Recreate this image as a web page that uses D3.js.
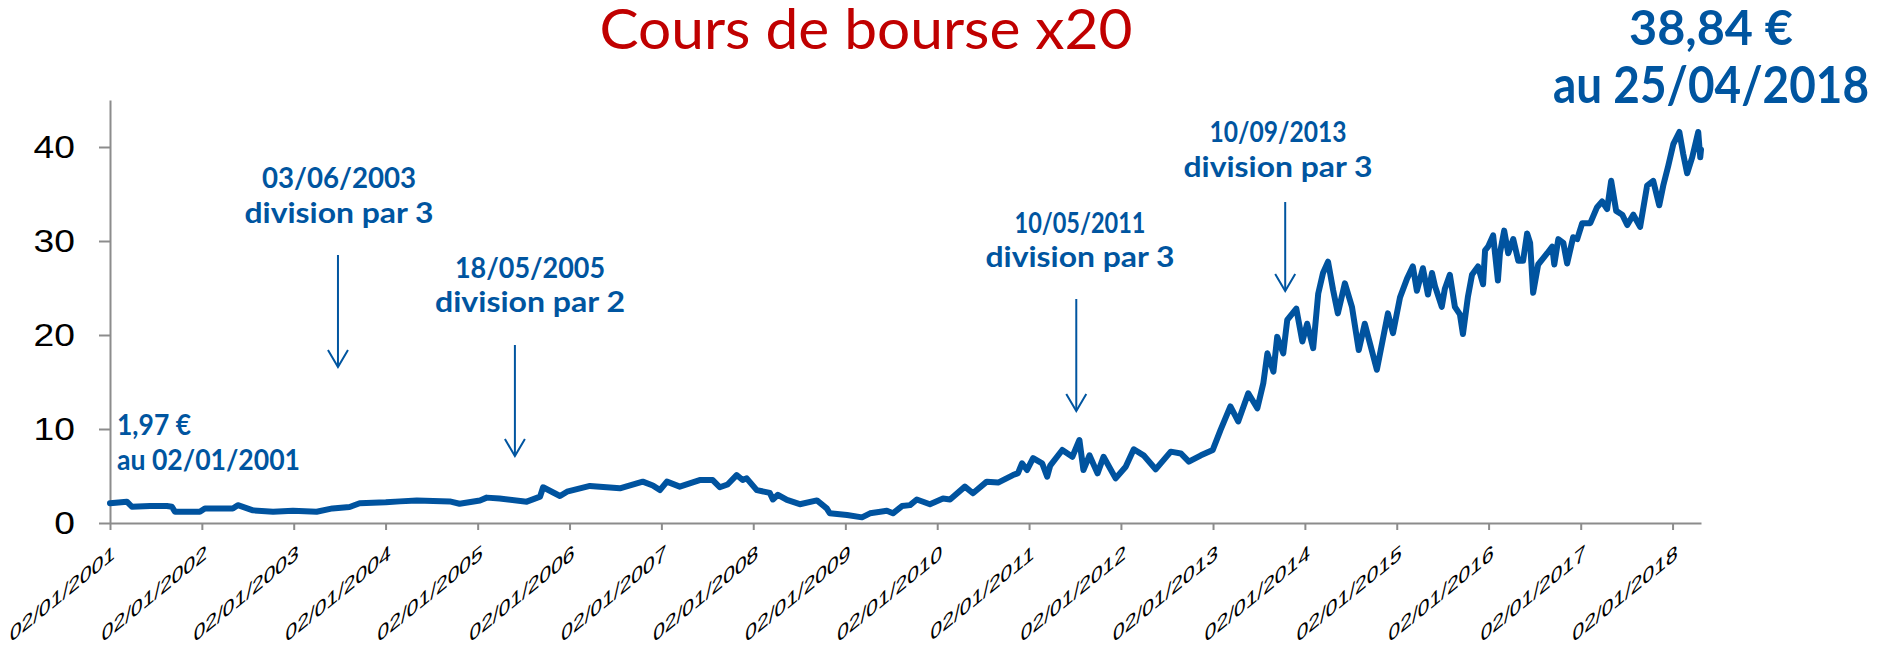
<!DOCTYPE html>
<html>
<head>
<meta charset="utf-8">
<script src="https://cdn.jsdelivr.net/npm/d3@7"></script>
<style>
  body { margin: 0; background: #fff; }
  svg { display: block; }
</style>
</head>
<body>
<div id="chart"></div>
<script>
// price series (x20)
const dates = [
  "2001-01-02","2001-03-10","2001-03-30","2001-06-10","2001-08-16","2001-09-05","2001-09-17","2001-12-25",
  "2002-01-14","2002-05-05","2002-05-25","2002-07-24","2002-10-12","2002-12-30",
  "2003-04-03","2003-06-05","2003-08-12","2003-09-21",
  "2004-01-03","2004-02-28","2004-05-05","2004-09-13","2004-10-22",
  "2005-01-11","2005-02-07","2005-03-30","2005-07-16","2005-09-07","2005-09-19","2005-11-25","2005-12-23",
  "2006-03-24","2006-07-21","2006-10-20","2006-11-29","2006-12-27",
  "2007-01-24","2007-03-16","2007-06-03","2007-07-25","2007-08-22","2007-09-22","2007-10-28","2007-11-21","2007-12-07",
  "2008-01-16","2008-03-08","2008-03-20","2008-04-09","2008-05-15","2008-07-05","2008-09-11","2008-10-20","2008-11-01",
  "2009-01-09","2009-03-09","2009-04-10","2009-06-16","2009-07-10","2009-08-15","2009-09-16","2009-10-13","2009-12-04",
  "2010-01-25","2010-02-22","2010-04-22","2010-05-24","2010-07-18","2010-09-01","2010-10-30","2010-11-19","2010-12-05","2010-12-25",
  "2011-01-18","2011-02-23","2011-03-15","2011-03-27","2011-05-14","2011-06-23","2011-07-21","2011-08-06","2011-08-30","2011-10-01","2011-10-25","2011-12-12",
  "2012-01-21","2012-02-22","2012-04-01","2012-05-19","2012-07-18","2012-08-27","2012-09-28","2012-11-15",
  "2013-01-01","2013-02-01","2013-03-12","2013-04-12","2013-05-22","2013-06-27","2013-07-21","2013-08-06","2013-08-30","2013-09-14","2013-10-08","2013-10-24","2013-11-29","2013-12-23",
  "2014-01-11","2014-02-04","2014-02-24","2014-03-15","2014-04-04","2014-04-24","2014-05-13","2014-06-10","2014-07-08","2014-08-04","2014-08-28","2014-10-15","2014-11-28","2014-12-18",
  "2015-01-15","2015-02-12","2015-03-07","2015-03-23","2015-04-16","2015-05-06","2015-05-22","2015-06-03","2015-06-30","2015-07-12","2015-08-01","2015-08-21","2015-09-10","2015-09-22","2015-10-12","2015-10-28","2015-11-21","2015-12-11","2015-12-19","2015-12-31",
  "2016-01-20","2016-02-08","2016-02-16","2016-03-04","2016-03-20","2016-04-09","2016-04-29","2016-05-18","2016-06-03","2016-06-15","2016-06-27","2016-07-17","2016-08-22","2016-09-11","2016-09-19","2016-10-05","2016-10-25","2016-11-09","2016-12-03","2016-12-19",
  "2017-01-08","2017-02-09","2017-03-08","2017-03-28","2017-04-17","2017-05-03","2017-05-23","2017-06-16","2017-07-06","2017-07-30","2017-08-26","2017-09-23","2017-10-17","2017-11-10","2017-11-26","2017-12-16",
  "2018-01-05","2018-01-29","2018-02-13","2018-03-01","2018-03-21","2018-04-14","2018-04-22","2018-04-25"
];
const prices = [
  2.1,2.27,1.73,1.8,1.8,1.73,1.2,1.2,
  1.55,1.55,1.9,1.35,1.2,1.3,
  1.2,1.55,1.7,2.1,
  2.2,2.3,2.4,2.3,2.05,
  2.4,2.7,2.6,2.27,2.8,3.8,2.87,3.33,
  3.94,3.69,4.4,3.99,3.5,
  4.4,3.87,4.57,4.57,3.8,4.1,5.1,4.57,4.75,
  3.5,3.2,2.5,3.0,2.45,2.0,2.4,1.56,1.03,
  0.85,0.6,1.03,1.3,1.03,1.8,1.9,2.5,2.0,
  2.6,2.5,3.87,3.16,4.4,4.3,5.1,5.3,6.35,5.64,
  6.9,6.35,4.93,6.1,7.77,7.05,8.83,5.64,7.2,5.28,7.05,4.75,
  5.99,7.84,7.2,5.71,7.59,7.4,6.52,7.2,
  7.77,9.9,12.4,10.8,13.8,12.2,14.9,18.05,16.1,19.8,18.05,21.6,22.8,19.3,
  21.2,18.6,24.4,26.6,27.8,24.8,22.3,25.5,23.0,18.4,21.2,16.3,22.3,20.2,
  24.0,26.0,27.3,24.7,27.1,24.3,26.6,25.2,23.0,24.9,26.4,23.0,22.2,20.1,24.1,26.4,27.3,25.4,29.0,29.4,
  30.6,25.8,28.7,31.1,28.7,30.2,27.9,27.9,30.8,29.8,24.5,27.5,28.7,29.4,27.5,30.2,29.8,27.6,30.4,30.2,
  31.9,31.9,33.6,34.2,33.4,36.4,33.2,32.8,31.7,32.8,31.5,35.9,36.4,33.8,35.9,38.0,
  40.3,41.6,39.3,37.2,38.9,41.6,38.9,39.7
];

const tickDates = d3.range(2001, 2019).map(yr => yr + "-01-02");
const yTicks = [0, 10, 20, 30, 40];

const titleText = "Cours de bourse x20";
const splitDates = ["2003-06-03", "2005-05-18", "2011-05-10", "2013-09-10"];
const splitTitles = ["03/06/2003", "18/05/2005", "10/05/2011", "10/09/2013"];
const splitLabels = ["division par 3", "division par 2", "division par 3", "division par 3"];
const startLabel = ["1,97 €", "au 02/01/2001"];
const endLabel = ["38,84 €", "au 25/04/2018"];

// layout
const W = 1878, H = 650;
const plot = {left: 110, right: 1701, top: 100, bottom: 523};
const blue = "#0055a0", lineBlue = "#00539f", red = "#c00000", axisGrey = "#8c8c8c";
const noteFont = "Lato, 'Open Sans', sans-serif";

// per-note placement: text centre, baselines, line widths, arrow offsets
const noteLayout = [
  {cx: 339, base: [188, 223], widths: [154, 189], dx: 6,  top: 255, tip: 367},
  {cx: 530, base: [278, 312], widths: [150, 190], dx: 3,  top: 345, tip: 456},
  {cx: 1080, base: [233, 267], widths: [131, 189], dx: 15, top: 299, tip: 411},
  {cx: 1278, base: [142, 177], widths: [137, 189], dx: 9,  top: 202, tip: 291}
];

const parse = d3.timeParse("%Y-%m-%d");
const series = dates.map((d, i) => ({date: parse(d), price: prices[i]}));

const x = d3.scaleTime()
  .domain(d3.extent(series, d => d.date))
  .range([plot.left, plot.right]);
const y = d3.scaleLinear().domain([0, 45]).range([plot.bottom, plot.top]);

const svg = d3.select("#chart").append("svg").attr("width", W).attr("height", H);

// axes
svg.append("g")
  .attr("transform", "translate(0," + plot.bottom + ")")
  .call(d3.axisBottom(x).tickValues(tickDates.map(parse)).tickSize(7).tickSizeOuter(0).tickFormat(""));
svg.append("g")
  .attr("transform", "translate(" + plot.left + ",0)")
  .call(d3.axisLeft(y).tickValues(yTicks).tickSize(11).tickSizeOuter(0).tickFormat(""));
svg.selectAll(".domain, .tick line").attr("stroke", axisGrey).attr("stroke-width", 2);
svg.selectAll(".tick text").remove();

// y tick labels (a bit stretched, like the original)
svg.selectAll(".ylab")
  .data(yTicks)
  .enter()
  .append("text")
  .attr("class", "ylab")
  .attr("transform", d => "translate(75," + (y(d) + 11) + ") scale(1.2,1)")
  .attr("text-anchor", "end")
  .style("font-family", "'Liberation Sans', Arial, sans-serif")
  .style("font-size", "31px")
  .attr("fill", "#000")
  .text(d => d);

// x tick labels, slanted
svg.selectAll(".xlab")
  .data(tickDates)
  .enter()
  .append("text")
  .attr("class", "xlab")
  .attr("transform", d => "translate(" + (x(parse(d)) + 5) + ",558) skewY(-39)")
  .attr("text-anchor", "end")
  .style("font-family", "'Liberation Sans', Arial, sans-serif")
  .style("font-size", "21px")
  .attr("fill", "#000")
  .text(d => d3.timeFormat("%d/%m/%Y")(parse(d)));

// price line
const line = d3.line().x(d => x(d.date)).y(d => y(d.price));
svg.append("path")
  .datum(series)
  .attr("d", line)
  .attr("fill", "none")
  .attr("stroke", lineBlue)
  .attr("stroke-width", 6)
  .attr("stroke-linejoin", "round")
  .attr("stroke-linecap", "round");

// title
svg.append("text")
  .attr("x", 866).attr("y", 49)
  .attr("text-anchor", "middle")
  .attr("textLength", 533).attr("lengthAdjust", "spacingAndGlyphs")
  .style("font-family", noteFont)
  .style("font-size", "57px")
  .attr("fill", red)
  .text(titleText);

function noteText(txt, cx, base, width, size, anchor) {
  svg.append("text")
    .attr("x", cx).attr("y", base)
    .attr("text-anchor", anchor || "middle")
    .attr("textLength", width).attr("lengthAdjust", "spacingAndGlyphs")
    .style("font-family", noteFont)
    .style("font-size", size + "px")
    .style("font-weight", "bold")
    .attr("fill", blue)
    .text(txt);
}

// split annotations with arrows
splitDates.forEach(function(d, i) {
  let lay = noteLayout[i];
  noteText(splitTitles[i], lay.cx, lay.base[0], lay.widths[0], 29);
  noteText(splitLabels[i], lay.cx, lay.base[1], lay.widths[1], 29);
  let ax = x(parse(d)) + lay.dx;
  let g = svg.append("g").attr("fill", "none").attr("stroke", blue).attr("stroke-width", 2);
  g.append("line").attr("x1", ax).attr("x2", ax).attr("y1", lay.top).attr("y2", lay.tip);
  g.append("path").attr("d", "M" + (ax - 10) + "," + (lay.tip - 17) + "L" + ax + "," + lay.tip + "L" + (ax + 10) + "," + (lay.tip - 17));
});

// start and end values
noteText(startLabel[0], 117, 435, 74, 28, "start");
noteText(startLabel[1], 117, 470, 183, 28, "start");
noteText(endLabel[0], 1711, 45, 164, 48);
noteText(endLabel[1], 1711, 103, 316, 51);
</script>
</body>
</html>
